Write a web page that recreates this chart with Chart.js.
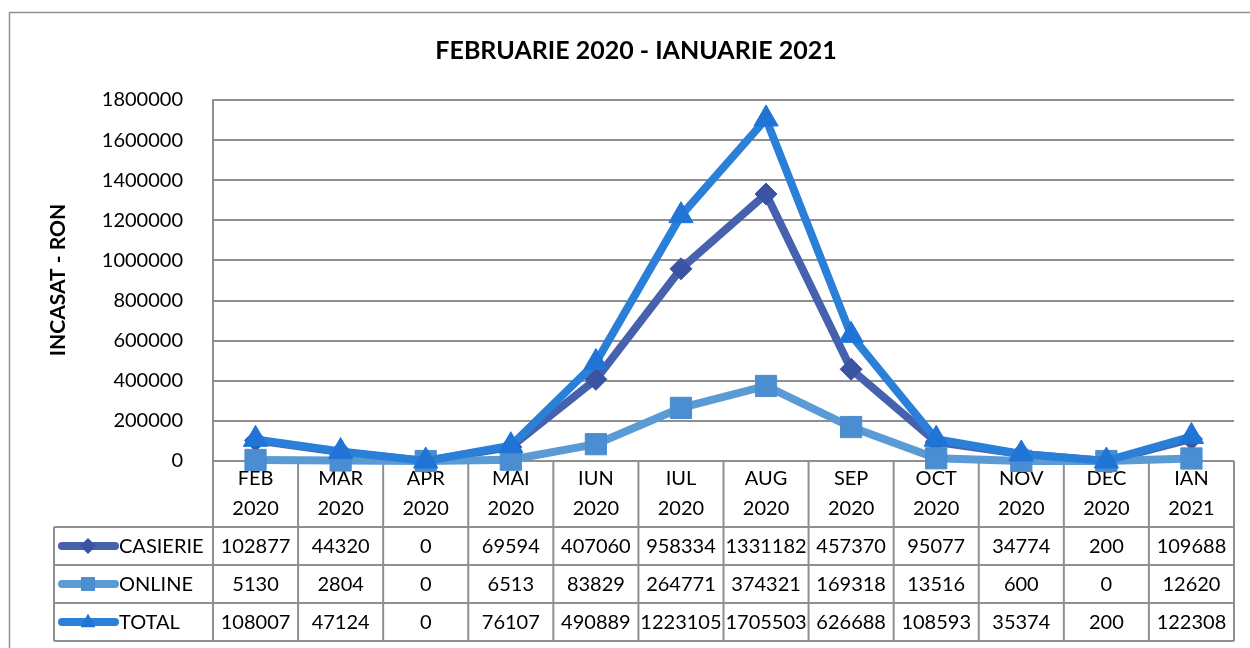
<!DOCTYPE html>
<html>
<head>
<meta charset="utf-8">
<script src="https://cdn.jsdelivr.net/npm/chart.js@4"></script>
<style>
  html, body { margin: 0; padding: 0; background: #fff; }
</style>
</head>
<body>
<canvas id="chart" width="1250" height="648"></canvas>
<script>
const months = [['FEB', '2020'], ['MAR', '2020'], ['APR', '2020'], ['MAI', '2020'], ['IUN', '2020'], ['IUL', '2020'],
  ['AUG', '2020'], ['SEP', '2020'], ['OCT', '2020'], ['NOV', '2020'], ['DEC', '2020'], ['IAN', '2021']];
const casierie = [102877, 44320, 0, 69594, 407060, 958334, 1331182, 457370, 95077, 34774, 200, 109688];
const online = [5130, 2804, 0, 6513, 83829, 264771, 374321, 169318, 13516, 600, 0, 12620];
const total = [108007, 47124, 0, 76107, 490889, 1223105, 1705503, 626688, 108593, 35374, 200, 122308];
const seriesNames = ['CASIERIE', 'ONLINE', 'TOTAL'];

const FONT = 'Lato, "Open Sans", sans-serif';
const GRID = '#8f8f8f';
const colors = ['#4661ad', '#5b9bd5', '#2a7fd8'];
const markColors = ['#3b53a3', '#4a8dd0', '#1f74d6'];
const styles = ['rectRot', 'rect', 'triangle'];

// small marker drawn in the legend column of the table
function marker(ctx, style, x, y, s, color) {
  ctx.fillStyle = color;
  ctx.beginPath();
  if (style === 'rectRot') {
    ctx.moveTo(x, y - s); ctx.lineTo(x + s, y); ctx.lineTo(x, y + s); ctx.lineTo(x - s, y);
  } else if (style === 'rect') {
    ctx.rect(x - s, y - s, 2 * s, 2 * s);
  } else {
    ctx.moveTo(x, y - s * 1.2); ctx.lineTo(x + s * 1.05, y + s * 0.75); ctx.lineTo(x - s * 1.05, y + s * 0.75);
  }
  ctx.closePath();
  ctx.fill();
}

const tablePlugin = {
  id: 'table',
  beforeDatasetsDraw(chart) {
    const ctx = chart.ctx;
    const area = chart.chartArea;
    const colW = (area.right - area.left) / months.length;
    const rows = [casierie, online, total];
    const rowTop = 527, rowH = 38, tableLeft = 54;
    ctx.save();
    ctx.strokeStyle = GRID;
    ctx.lineWidth = 2;
    ctx.beginPath();
    for (let i = 0; i <= months.length; i++) {
      const x = area.left + i * colW;
      ctx.moveTo(x, area.bottom);
      ctx.lineTo(x, rowTop + rowH * 3);
    }
    for (let r = 0; r <= 3; r++) {
      ctx.moveTo(tableLeft, rowTop + r * rowH);
      ctx.lineTo(area.right, rowTop + r * rowH);
    }
    ctx.moveTo(tableLeft, rowTop);
    ctx.lineTo(tableLeft, rowTop + rowH * 3);
    ctx.stroke();

    ctx.fillStyle = '#000';
    ctx.font = '20px ' + FONT;
    ctx.textAlign = 'center';
    ctx.textBaseline = 'middle';
    months.forEach((m, i) => {
      const x = chart.scales.x.getPixelForValue(i);
      ctx.fillText(m[0], x, 479);
      ctx.fillText(m[1], x, 509);
      rows.forEach((vals, r) => {
        ctx.fillText(String(vals[i]), x, rowTop + r * rowH + rowH / 2 + 1);
      });
    });

    rows.forEach((vals, r) => {
      const y = rowTop + r * rowH + rowH / 2;
      ctx.strokeStyle = colors[r];
      ctx.lineWidth = 8;
      ctx.lineCap = 'round';
      ctx.beginPath();
      ctx.moveTo(62, y);
      ctx.lineTo(115, y);
      ctx.stroke();
      marker(ctx, styles[r], 88, y, r === 0 ? 8 : 7, markColors[r]);
      ctx.fillStyle = '#000';
      ctx.textAlign = 'left';
      ctx.fillText(seriesNames[r], 119, y + 1);
    });
    ctx.restore();
  },
  afterDraw(chart) {
    const ctx = chart.ctx;
    ctx.save();
    ctx.strokeStyle = GRID;
    ctx.lineWidth = 1.5;
    ctx.strokeRect(9.5, 12.5, 1260, 700);
    ctx.fillStyle = '#000';
    ctx.font = 'bold 25px ' + FONT;
    ctx.textAlign = 'center';
    ctx.textBaseline = 'middle';
    ctx.fillText('FEBRUARIE 2020 - IANUARIE 2021', 636, 51);
    ctx.translate(58, 280);
    ctx.rotate(-Math.PI / 2);
    ctx.font = 'bold 21px ' + FONT;
    ctx.fillText('INCASAT - RON', 0, 0);
    ctx.restore();
  }
};

const series = [casierie, online, total];
new Chart(document.getElementById('chart'), {
  type: 'line',
  data: {
    labels: months.map((m) => m.join(' ')),
    datasets: series.map((data, i) => ({
      label: seriesNames[i],
      data: data,
      borderColor: colors[i],
      backgroundColor: markColors[i],
      pointBackgroundColor: markColors[i],
      pointBorderColor: markColors[i],
      pointBorderWidth: 1,
      borderWidth: 8,
      pointStyle: styles[i],
      pointRadius: [11, 15, 14][i],
      tension: 0,
      clip: false,
      order: 2 - i,
    })),
  },
  options: {
    responsive: false,
    animation: false,
    layout: { padding: { top: 100, bottom: 187, left: 0, right: 16 } },
    plugins: { legend: { display: false }, tooltip: { enabled: false } },
    scales: {
      x: { display: false, offset: true },
      y: {
        min: 0,
        max: 1800000,
        afterFit: (scale) => { scale.width = 213; },
        ticks: {
          stepSize: 200000,
          color: '#000',
          font: { family: FONT, size: 20 },
          padding: 30,
          callback: (v) => String(v),
        },
        grid: { color: GRID, lineWidth: 2, drawTicks: false },
        border: { display: true, color: GRID, width: 2 },
      },
    },
  },
  plugins: [tablePlugin],
});
</script>
</body>
</html>
